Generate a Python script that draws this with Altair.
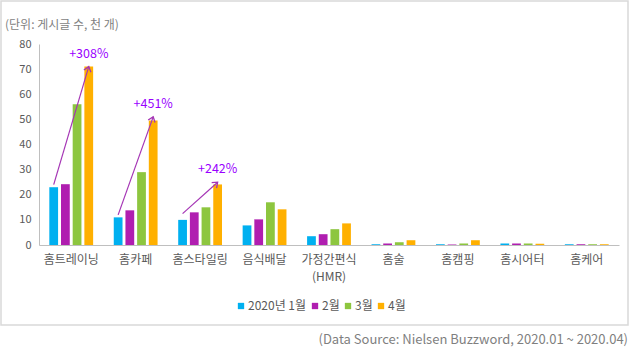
import altair as alt
import pandas as pd

categories = ["홈트레이닝", "홈카페", "홈스타일링", "음식배달", "가정간편식 (HMR)",
              "홈술", "홈캠핑", "홈시어터", "홈케어"]
months = ["2020년 1월", "2월", "3월", "4월"]
jan = [23.0, 11.0, 10.0, 7.8, 3.5, 0.3, 0.3, 0.6, 0.3]
feb = [24.2, 13.8, 13.0, 10.2, 4.3, 0.6, 0.2, 0.6, 0.3]
mar = [56.0, 29.0, 15.0, 17.0, 6.3, 1.1, 0.6, 0.6, 0.3]
apr = [71.0, 49.6, 24.1, 14.2, 8.6, 1.9, 1.9, 0.5, 0.3]
colors = ["#00B0F0", "#B01EB0", "#8DC63F", "#FFB000"]
y_ticks = [0, 10, 20, 30, 40, 50, 60, 70, 80]

# growth arrows (from Jan bar to Apr bar)
arrow_cats = ["홈트레이닝", "홈카페", "홈스타일링"]
arrow_start = [24.0, 12.0, 12.5]
arrow_end = [71.0, 51.0, 25.0]
arrow_labels = ["+308%", "+451%", "+242%"]
arrow_angles = [16.5, 19.7, 48]

rows = []
for i, c in enumerate(categories):
    for m, vals in zip(months, [jan, feb, mar, apr]):
        rows.append({"cat": c, "month": m, "value": vals[i]})
df = pd.DataFrame(rows)

arows = []
for i, c in enumerate(arrow_cats):
    arows.append({"cat": c, "month": months[0], "value": arrow_start[i], "aid": i})
    arows.append({"cat": c, "month": months[3], "value": arrow_end[i], "aid": i})
adf = pd.DataFrame(arows)
hdf = pd.DataFrame({"cat": arrow_cats, "month": [months[3]] * 3, "value": arrow_end,
                    "label": arrow_labels, "angle": arrow_angles})

W, H = 580, 201
FONT = "Noto Sans CJK KR"

x_enc = alt.X("cat:N", sort=categories, title=None,
              scale=alt.Scale(paddingInner=0.32, paddingOuter=0.16),
              axis=alt.Axis(labelAngle=0, ticks=False, domainColor="#bfbfbf",
                            labelColor="#595959", labelFontSize=12, labelPadding=9,
                            labelLineHeight=17,
                            labelExpr="split(datum.label, ' ')"))
xo_enc = alt.XOffset("month:N", sort=months,
                     scale=alt.Scale(paddingInner=0.25, paddingOuter=0))
y_enc = alt.Y("value:Q", title=None,
              scale=alt.Scale(domain=[0, 80], nice=False),
              axis=alt.Axis(values=y_ticks, grid=False, ticks=False,
                            labelOverlap=False,
                            domainColor="#bfbfbf", labelColor="#595959",
                            labelFontSize=11, labelPadding=8))

bars = alt.Chart(df).mark_bar().encode(
    x=x_enc, xOffset=xo_enc, y=y_enc,
    color=alt.Color("month:N", sort=months,
                    scale=alt.Scale(domain=months, range=colors),
                    legend=alt.Legend(orient="none", legendX=196, legendY=256,
                                      direction="horizontal", title=None,
                                      symbolType="square", symbolSize=40,
                                      symbolStrokeWidth=0,
                                      labelFontSize=12, labelColor="#595959",
                                      labelOffset=1, columnPadding=2)),
)

lines = alt.Chart(adf).mark_line(color="#A535B5", strokeWidth=1.2).encode(
    x=x_enc, xOffset=xo_enc, y=y_enc, detail="aid:N")

heads = alt.Chart(hdf).mark_point(
    shape="M-0.7,0.9L0,0L0.7,0.9", filled=False, color="#A535B5",
    strokeWidth=1.3, size=110, opacity=1).encode(
    x=x_enc, xOffset=xo_enc, y=y_enc, angle=alt.Angle("angle:Q", scale=None))

labels = alt.Chart(hdf).mark_text(dy=-13, color="#9900FF", fontSize=12.5).encode(
    x=x_enc, xOffset=xo_enc, y=y_enc, text="label:N")

one = pd.DataFrame({"k": [0]})
border = alt.Chart(one).mark_rect(fill="transparent", stroke="#d9d9d9", strokeWidth=1.5).encode(
    x=alt.value(-38), x2=alt.value(589), y=alt.value(-43), y2=alt.value(281))
unit = alt.Chart(one).mark_text(align="left", baseline="middle", fontSize=12,
                                color="#7f7f7f", text="(단위: 게시글 수, 천 개)").encode(
    x=alt.value(-34), y=alt.value(-19))
source = alt.Chart(one).mark_text(align="right", baseline="middle", fontSize=13,
                                  color="#7f7f7f",
                                  text="(Data Source: Nielsen Buzzword, 2020.01  ~ 2020.04)").encode(
    x=alt.value(589), y=alt.value(296))

chart = alt.layer(border, bars, lines, heads, labels, unit, source).properties(
    width=W, height=H,
    autosize=alt.AutoSizeParams(type="none"),
    padding={"left": 39, "top": 44, "right": 11, "bottom": 109},
).configure(font=FONT).configure_view(stroke=None)

chart.save("out.html", embed_options={"renderer": "svg", "actions": False})
